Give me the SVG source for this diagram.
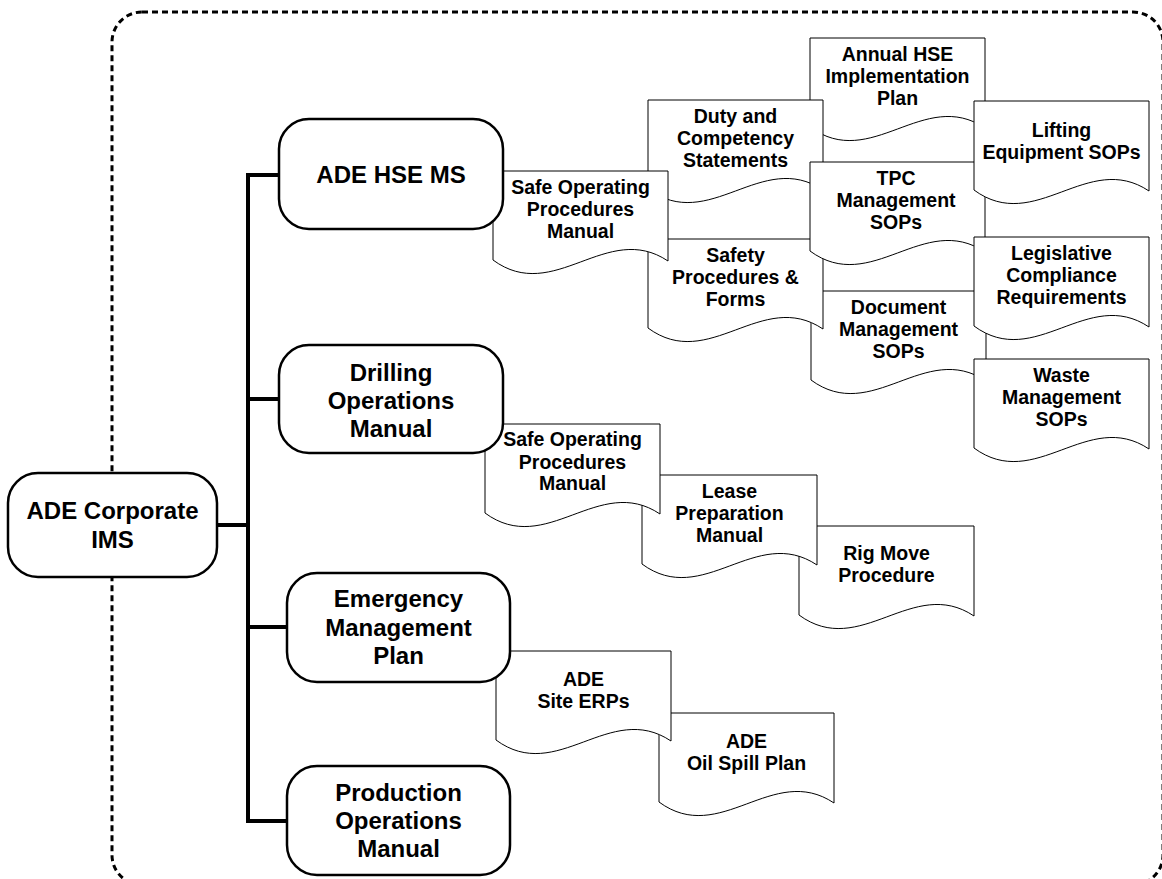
<svg xmlns="http://www.w3.org/2000/svg" width="1162" height="879" viewBox="0 0 1162 879">
<style>
.frame{fill:none;stroke:#000;stroke-width:3;stroke-dasharray:6 4}
.conn{fill:none;stroke:#000;stroke-width:4;stroke-linecap:square;stroke-linejoin:miter}
.node{fill:#fff;stroke:#000;stroke-width:2.5}
.doc{fill:#fff;stroke:#000;stroke-width:1}
.nt{font-family:"Liberation Sans",Arial,sans-serif;font-weight:bold;font-size:24px;text-anchor:middle;fill:#000}
.dt{font-family:"Liberation Sans",Arial,sans-serif;font-weight:bold;font-size:19.5px;text-anchor:middle;fill:#000}
</style>
<defs>
<path id="docshape" d="M0,89 V0 H175 V90 C113.75,49 61.25,134 0,89 Z"/>
</defs>
<rect class="frame" x="112" y="12" width="1051" height="873" rx="30" ry="30"/>

<g id="connectors">
<polyline class="conn" points="279,175 248,175 248,821 287,821"/>
<line class="conn" x1="248" y1="399" x2="279" y2="399"/>
<line class="conn" x1="217" y1="525" x2="248" y2="525"/>
<line class="conn" x1="248" y1="627" x2="287" y2="627"/>
</g>

<g id="doc-annual" transform="translate(810,38)"><use href="#docshape" class="doc"/>
<text class="dt" x="87.5" y="23">Annual HSE</text><text class="dt" x="87.5" y="45">Implementation</text><text class="dt" x="87.5" y="67">Plan</text></g>

<g id="doc-docmgmt" transform="translate(811,291)"><use href="#docshape" class="doc"/>
<text class="dt" x="87.5" y="23">Document</text><text class="dt" x="87.5" y="45">Management</text><text class="dt" x="87.5" y="67">SOPs</text></g>

<g id="doc-duty" transform="translate(648,100)"><use href="#docshape" class="doc"/>
<text class="dt" x="87.5" y="23">Duty and</text><text class="dt" x="87.5" y="45">Competency</text><text class="dt" x="87.5" y="67">Statements</text></g>

<g id="doc-safety" transform="translate(648,239)"><use href="#docshape" class="doc"/>
<text class="dt" x="87.5" y="23">Safety</text><text class="dt" x="87.5" y="45">Procedures &amp;</text><text class="dt" x="87.5" y="67">Forms</text></g>

<g id="doc-sop-hse" transform="translate(493,171)"><use href="#docshape" class="doc"/>
<text class="dt" x="87.5" y="23">Safe Operating</text><text class="dt" x="87.5" y="45">Procedures</text><text class="dt" x="87.5" y="67">Manual</text></g>

<g id="doc-tpc" transform="translate(810,162)"><use href="#docshape" class="doc"/>
<text class="dt" x="86" y="23">TPC</text><text class="dt" x="86" y="45">Management</text><text class="dt" x="86" y="67">SOPs</text></g>

<g id="doc-lifting" transform="translate(974,101)"><use href="#docshape" class="doc"/>
<text class="dt" x="87.5" y="36">Lifting</text><text class="dt" x="87.5" y="58">Equipment SOPs</text></g>

<g id="doc-legislative" transform="translate(974,237)"><use href="#docshape" class="doc"/>
<text class="dt" x="87.5" y="23">Legislative</text><text class="dt" x="87.5" y="45">Compliance</text><text class="dt" x="87.5" y="67">Requirements</text></g>

<g id="doc-waste" transform="translate(974,359)"><use href="#docshape" class="doc"/>
<text class="dt" x="87.5" y="23">Waste</text><text class="dt" x="87.5" y="45">Management</text><text class="dt" x="87.5" y="67">SOPs</text></g>

<g id="doc-rig" transform="translate(799,526)"><use href="#docshape" class="doc"/>
<text class="dt" x="87.5" y="34">Rig Move</text><text class="dt" x="87.5" y="56">Procedure</text></g>

<g id="doc-lease" transform="translate(642,475)"><use href="#docshape" class="doc"/>
<text class="dt" x="87.5" y="23">Lease</text><text class="dt" x="87.5" y="45">Preparation</text><text class="dt" x="87.5" y="67">Manual</text></g>

<g id="doc-sop-drill" transform="translate(485,424)"><use href="#docshape" class="doc"/>
<text class="dt" x="87.5" y="22">Safe Operating</text><text class="dt" x="87.5" y="45">Procedures</text><text class="dt" x="87.5" y="66">Manual</text></g>

<g id="doc-oilspill" transform="translate(659,713)"><use href="#docshape" class="doc"/>
<text class="dt" x="87.5" y="35">ADE</text><text class="dt" x="87.5" y="57">Oil Spill Plan</text></g>

<g id="doc-erps" transform="translate(496,651)"><use href="#docshape" class="doc"/>
<text class="dt" x="87.5" y="35">ADE</text><text class="dt" x="87.5" y="57">Site ERPs</text></g>

<g id="node-corporate">
<rect class="node" x="8" y="473" width="209" height="104" rx="30" ry="30"/>
<text class="nt" x="112.5" y="519">ADE Corporate</text><text class="nt" x="112.5" y="548">IMS</text></g>

<g id="node-hse">
<rect class="node" x="279" y="119" width="224" height="110" rx="30" ry="30"/>
<text class="nt" x="391" y="183">ADE HSE MS</text></g>

<g id="node-drilling">
<rect class="node" x="279" y="345" width="224" height="108" rx="30" ry="30"/>
<text class="nt" x="391" y="381">Drilling</text><text class="nt" x="391" y="409">Operations</text><text class="nt" x="391" y="437">Manual</text></g>

<g id="node-emergency">
<rect class="node" x="287" y="573" width="223" height="109" rx="30" ry="30"/>
<text class="nt" x="398.5" y="607">Emergency</text><text class="nt" x="398.5" y="636">Management</text><text class="nt" x="398.5" y="664">Plan</text></g>

<g id="node-production">
<rect class="node" x="287" y="766" width="223" height="109" rx="30" ry="30"/>
<text class="nt" x="398.5" y="801">Production</text><text class="nt" x="398.5" y="829">Operations</text><text class="nt" x="398.5" y="857">Manual</text></g>
</svg>
